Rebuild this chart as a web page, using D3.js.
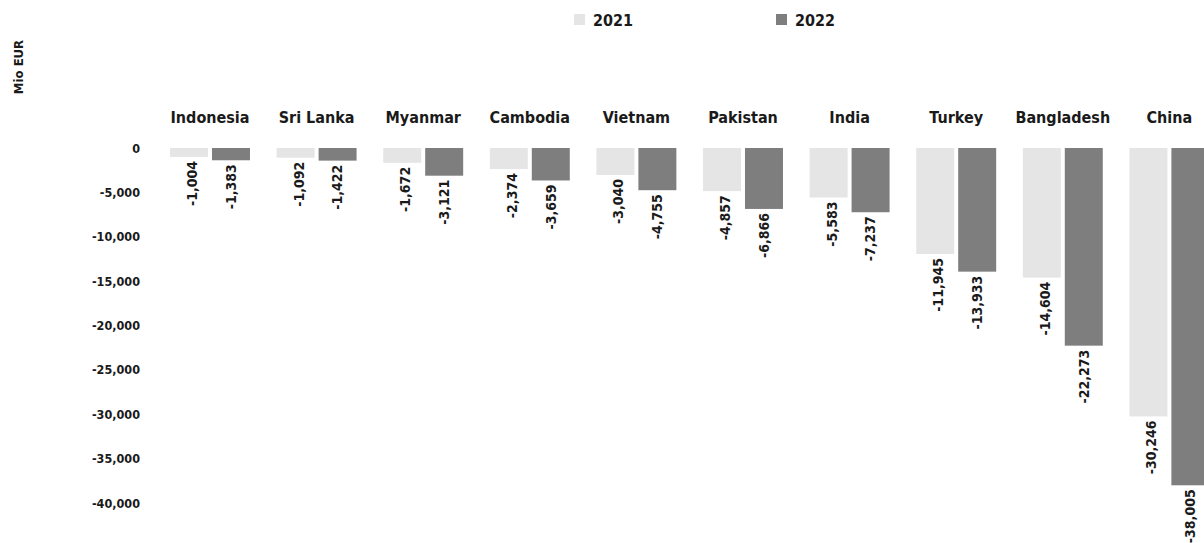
<!DOCTYPE html>
<html>
<head>
<meta charset="utf-8">
<script src="https://cdn.jsdelivr.net/npm/d3@7/dist/d3.min.js"></script>
<style>
  html, body { margin: 0; padding: 0; background: #ffffff; }
  svg { display: block; }
  text { font-family: "DejaVu Sans Condensed", "DejaVu Sans", sans-serif; font-weight: bold; fill: #1a1a1a; }
</style>
</head>
<body>
<svg id="chart" width="1204" height="543"></svg>
<script>
const categories = ["Indonesia", "Sri Lanka", "Myanmar", "Cambodia", "Vietnam", "Pakistan", "India", "Turkey", "Bangladesh", "China"];
const series = ["2021", "2022"];
const values2021 = [-1004, -1092, -1672, -2374, -3040, -4857, -5583, -11945, -14604, -30246];
const values2022 = [-1383, -1422, -3121, -3659, -4755, -6866, -7237, -13933, -22273, -38005];
const yTicks = [0, -5000, -10000, -15000, -20000, -25000, -30000, -35000, -40000];
const yAxisTitle = "Mio EUR";
const colors = { "2021": "#e5e5e5", "2022": "#7e7e7e" };

const svg = d3.select("#chart");
const locale = d3.formatLocale({ decimal: ".", thousands: ",", grouping: [3], currency: ["", ""], minus: "-" });
const fmt = locale.format(",");

const y = d3.scaleLinear().domain([0, -40000]).range([148, 503]);
const x0 = d3.scaleBand().domain(categories).range([156.7, 1222.7]).paddingInner(0.25).paddingOuter(0.125);
const x1 = d3.scaleBand().domain(series).range([0, x0.bandwidth()]).paddingInner(0.095);

const data = categories.map((c, i) => ({ cat: c, vals: [{ s: "2021", v: values2021[i] }, { s: "2022", v: values2022[i] }] }));

// y axis
const yAxis = d3.axisLeft(y).tickValues(yTicks).tickSize(0).tickPadding(0).tickFormat(fmt);
const gy = svg.append("g").attr("transform", "translate(140,0)").call(yAxis);
gy.select(".domain").remove();
gy.selectAll("text").style("font-family", "'DejaVu Sans Condensed', sans-serif").style("font-weight", "bold").style("font-size", "12.5px").attr("fill", "#1a1a1a");

// y axis title
svg.append("text").attr("transform", "translate(23,67) rotate(-90)").attr("text-anchor", "middle").style("font-size", "13px").text(yAxisTitle);

// category labels
svg.append("g").selectAll("text").data(categories).join("text")
  .attr("x", d => x0(d) + x0.bandwidth() / 2).attr("y", 123)
  .attr("text-anchor", "middle").style("font-size", "16px").text(d => d);

// bars
const groups = svg.append("g").selectAll("g").data(data).join("g")
  .attr("transform", d => `translate(${x0(d.cat)},0)`);

groups.selectAll("rect").data(d => d.vals).join("rect")
  .attr("x", d => x1(d.s)).attr("width", x1.bandwidth())
  .attr("y", y(0)).attr("height", d => y(d.v) - y(0))
  .attr("fill", d => colors[d.s]);

groups.selectAll("text.val").data(d => d.vals).join("text").attr("class", "val")
  .attr("transform", d => `translate(${x1(d.s) + x1.bandwidth() / 2 + (d.s === "2021" ? 3 : 0)},${y(d.v) + 4}) rotate(-90)`)
  .attr("dy", "0.35em").attr("text-anchor", "end").style("font-size", "14px")
  .text(d => fmt(d.v));

// legend
const legendX = { "2021": 574, "2022": 776 };
const lg = svg.append("g").selectAll("g").data(series).join("g")
  .attr("transform", d => `translate(${legendX[d]},14)`);
lg.append("rect").attr("width", 11).attr("height", 11).attr("fill", d => colors[d]);
lg.append("text").attr("x", 19).attr("y", 12).style("font-size", "16px").text(d => d);
</script>
</body>
</html>
